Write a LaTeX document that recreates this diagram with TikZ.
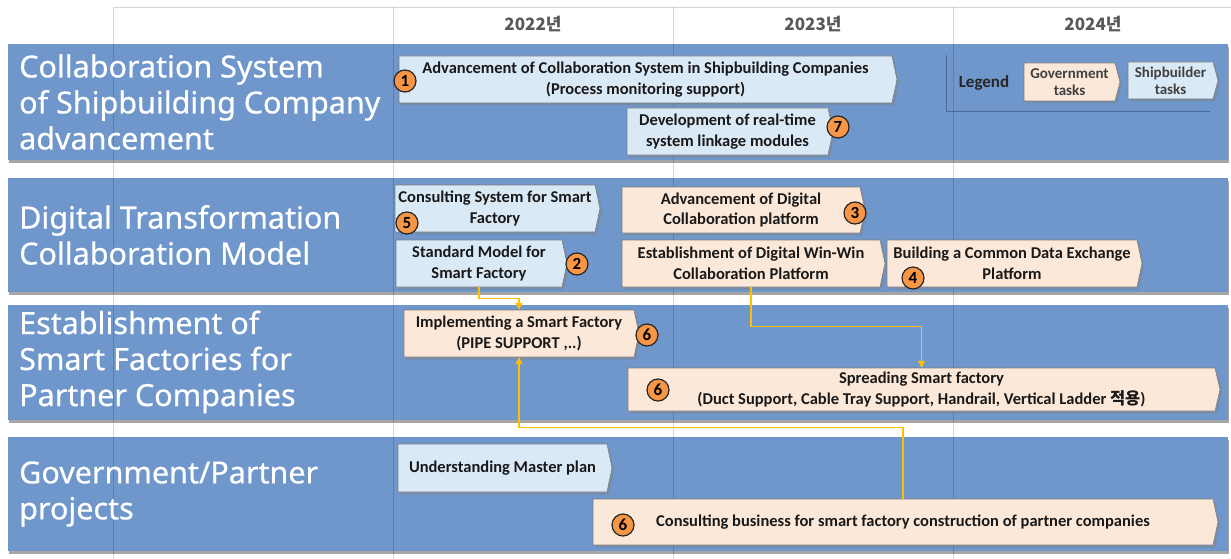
\documentclass[tikz,border=0pt]{standalone}
\usepackage{fontspec}
\setmainfont{Carlito}
\newfontfamily\titlefont[FakeBold=0.5]{Noto Sans}
\newfontfamily\krfont{Noto Sans CJK KR}
\usetikzlibrary{shadows,arrows.meta}
\definecolor{band}{RGB}{111,151,203}
\definecolor{skyfill}{RGB}{218,233,246}
\definecolor{peach}{RGB}{252,232,216}
\definecolor{boxline}{RGB}{125,125,125}
\definecolor{numorange}{RGB}{247,150,70}
\definecolor{gold}{RGB}{255,192,0}
\definecolor{legline}{RGB}{75,105,150}
\tikzset{
 bandrect/.style={fill=band, drop shadow={shadow xshift=1pt, shadow yshift=-3pt, opacity=0.35, fill=black}},
 bandtitle/.style={anchor=west, align=left, text=white, font=\titlefont\fontsize{30.5}{36}\selectfont, inner sep=0pt},
 yearlabel/.style={text=black!65, font=\krfont\bfseries\fontsize{17}{20}\selectfont},
 gridline/.style={draw=black, opacity=0.16, line width=0.8pt},
 boxshape/.style={draw=boxline, line width=0.6pt, drop shadow={shadow xshift=2pt, shadow yshift=-2.5pt, opacity=0.4}},
 boxtext/.style={align=center, inner sep=0pt, font=\bfseries\fontsize{16.5}{20.5}\selectfont, text=black!90},
 legtext/.style={font=\bfseries\fontsize{15}{17}\selectfont, text=black!75},
 num/.style={circle, draw=black!85, line width=1.2pt, fill=numorange, minimum size=22pt, inner sep=0pt, font=\bfseries\fontsize{17}{17}\selectfont},
 conn/.style={draw=gold, line width=1.2pt, -{Triangle[width=7pt,length=7pt]}},
}
\newcommand\taskbox[8][]{%
 \path[boxshape, fill=#7] (#3,#4) -- (#5,#4) -- ({#5+5},{(#4+#6)/2}) -- (#5,#6) -- (#3,#6) -- cycle;
 \node[boxtext,#1, minimum width={#5-#3}, minimum height={#6-#4}] (#2) at ({(#3+#5)/2},{(#4+#6)/2}) {#8};
}
\begin{document}
\begin{tikzpicture}[x=1pt,y=-1pt]
\fill[white] (0,0) rectangle (1231,559);
\useasboundingbox (0,0) rectangle (1231,559);
% bands
\fill[bandrect] (8,44) rectangle (1228,160);
\fill[bandrect] (8,178) rectangle (1228,292);
\fill[bandrect] (8,305) rectangle (1228,420);
\fill[bandrect] (8,437) rectangle (1228,551);
% grid
\draw[gridline] (113,559) -- (113,7) -- (1231,7);
\draw[gridline] (393,7) -- (393,559);
\draw[gridline] (673,7) -- (673,559);
\draw[gridline] (953,7) -- (953,559);
% years
\node[yearlabel] (y22) at (533,24) {2022년};
\node[yearlabel] (y23) at (813,24) {2023년};
\node[yearlabel] (y24) at (1093,24) {2024년};
% band titles
\node[bandtitle] (g1) at (19,102) {Collaboration System\\of Shipbuilding Company\\advancement};
\node[bandtitle] (g2) at (19,235) {Digital Transformation\\Collaboration Model};
\node[bandtitle] (g3) at (19,362) {Establishment of\\Smart Factories for\\Partner Companies};
\node[bandtitle] (g4) at (19,494) {Government/Partner\\projects};
% legend
\draw[legline, line width=0.6pt] (946,55) -- (946,111) -- (1210,111);
\node[font=\bfseries\fontsize{17}{17}\selectfont, text=black!85] (leg) at (984,83) {Legend};
\taskbox[legtext]{lgov}{1024}{63}{1115}{101}{peach}{Government\\tasks}
\taskbox[legtext]{lship}{1128}{62}{1213}{99}{skyfill}{Shipbuilder\\tasks}
% tasks
\taskbox{t1}{399}{56}{892}{103}{skyfill}{Advancement of Collaboration System in Shipbuilding Companies\\(Process monitoring support)}
\taskbox{t7}{627}{108}{828}{155}{skyfill}{Development of real-time\\system linkage modules}
\taskbox{t5}{395}{185}{595}{232}{skyfill}{Consulting System for Smart\\Factory}
\taskbox{t2}{396}{240}{562}{287}{skyfill}{Standard Model for\\Smart Factory}
\taskbox{t3}{622}{187}{860}{233}{peach}{Advancement of Digital\\Collaboration platform}
\taskbox{tw}{622}{240}{880}{287}{peach}{Establishment of Digital Win-Win\\Collaboration Platform}
\taskbox{t4}{887}{240}{1137}{287}{peach}{Building a Common Data Exchange\\Platform}
\taskbox{timpl}{404}{310}{634}{357}{peach}{Implementing a Smart Factory\\(PIPE SUPPORT ,..)}
\taskbox{tspread}{628}{368}{1215}{411}{peach}{Spreading Smart factory\\(Duct Support, Cable Tray Support, Handrail, Vertical Ladder {\krfont 적용})}
\taskbox{tmaster}{398}{444}{607}{492}{skyfill}{Understanding Master plan}
\taskbox{tcons}{593}{499}{1213}{545}{peach}{Consulting business for smart factory construction of partner companies}
% numbers
\node[num] (n1) at (405,81) {1};
\node[num] (n7) at (838,127) {7};
\node[num] (n5) at (407,223) {5};
\node[num] (n2) at (577,264) {2};
\node[num] (n3) at (855,213) {3};
\node[num] (n4) at (913,278) {4};
\node[num] (n6a) at (647,335) {6};
\node[num] (n6b) at (658,390) {6};
\node[num] (n6c) at (623,525) {6};
% connectors
\draw[conn] (t2.south) -- ++(0,11) -| (timpl.north);
\draw[conn] (tw.south) -- ++(0,39) -| (tspread.north);
\draw[conn] (tcons.north) -- ++(0,-71) -| (timpl.south);
\end{tikzpicture}
\end{document}
